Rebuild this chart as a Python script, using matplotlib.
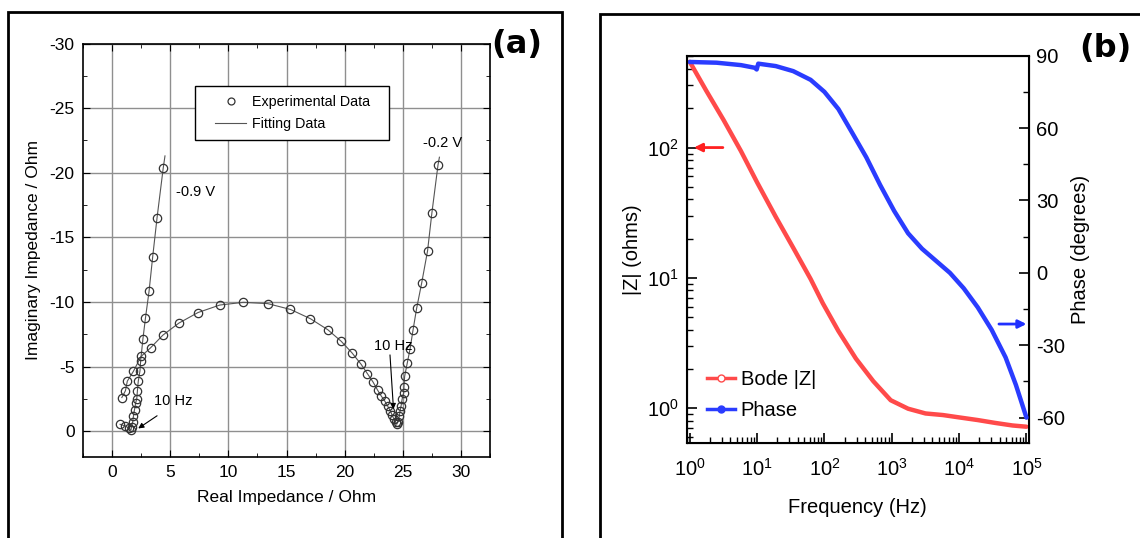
import matplotlib
matplotlib.use("Agg")
import matplotlib.pyplot as plt
from matplotlib.lines import Line2D
from matplotlib.patches import Rectangle
from matplotlib.ticker import MultipleLocator, LogLocator, NullFormatter

plt.rcParams['font.family'] = ['Liberation Sans', 'DejaVu Sans']
plt.rcParams['mathtext.default'] = 'regular'
plt.rcParams['axes.unicode_minus'] = False

# ---------------- Panel (a) data: Nyquist ----------------
re_09 = [0.69, 1.15, 1.47, 1.62, 1.68, 1.78, 1.84, 1.93, 2.03, 2.12, 2.18, 2.25, 2.40, 2.46, 2.65, 2.87, 3.18, 3.49, 3.87, 4.40]
im_09 = [-0.53, -0.40, -0.21, -0.08, -0.34, -0.74, -1.19, -1.67, -2.20, -2.47, -3.13, -3.85, -4.67, -5.46, -7.11, -8.75, -10.82, -13.47, -16.53, -20.37]

re_02 = [0.84, 1.15, 1.31, 1.84, 2.49, 3.31, 4.37, 5.74, 7.39, 9.26, 11.29, 13.38, 15.34, 17.06, 18.55, 19.71, 20.64, 21.42, 21.95, 22.45,
         22.83, 23.14, 23.45, 23.70, 23.92, 24.07, 24.23, 24.38, 24.48, 24.57, 24.70, 24.76, 24.85, 24.94, 25.07, 25.10, 25.16, 25.38,
         25.63, 25.88, 26.19, 26.63, 27.13, 27.50, 28.03]
im_02 = [-2.60, -3.13, -3.87, -4.64, -5.78, -6.45, -7.43, -8.36, -9.18, -9.76, -9.97, -9.87, -9.42, -8.70, -7.85, -6.95, -6.05, -5.17, -4.46, -3.79,
         -3.18, -2.73, -2.33, -1.94, -1.59, -1.27, -0.95, -0.69, -0.53, -0.74, -1.14, -1.54, -1.94, -2.47, -2.92, -3.45, -4.24, -5.25,
         -6.39, -7.82, -9.50, -11.49, -13.95, -16.87, -20.61]

fit_09_re = re_09 + [4.55]
fit_09_im = im_09 + [-21.3]
fit_02_re = re_02 + [28.15]
fit_02_im = im_02 + [-21.2]

# ---------------- Panel (b) data: Bode ----------------
freq_z = [1, 1.75, 3.17, 5.75, 10, 18.9, 34.4, 62.3, 94.5, 161, 293, 531, 963, 1746, 3170, 5740, 9820, 18900, 34300, 62000, 100000]
mag_z = [455, 274, 163, 94, 54, 29.4, 17.0, 9.8, 6.38, 3.91, 2.40, 1.61, 1.15, 0.99, 0.91, 0.885, 0.85, 0.81, 0.77, 0.736, 0.72]

freq_p = [1, 2.5, 5.75, 9.2, 9.85, 10.4, 18.9, 34.4, 62.3, 100, 161, 260, 418, 672, 1083, 1746, 2810, 4530, 7300, 11700, 18900, 30400, 48900, 69600, 100000]
phase = [87.4, 87.1, 86.1, 85.0, 84.3, 86.7, 85.7, 83.6, 80.0, 75.0, 67.9, 57.9, 47.9, 36.4, 25.7, 16.4, 10.0, 5.0, 0.0, -6.4, -14.3, -23.6, -35.0, -46.4, -60.0]

W, H = 1140, 538
fig = plt.figure(figsize=(W / 100, H / 100), dpi=100)

# panel frames
fig.patches.append(Rectangle((8 / W, -0.05), (562 - 8) / W, 1.05 - 12 / H, transform=fig.transFigure,
                             fill=False, lw=2, edgecolor='black'))
fig.patches.append(Rectangle((600 / W, -0.05), 0.5, 1.05 - 14 / H, transform=fig.transFigure,
                             fill=False, lw=2, edgecolor='black'))

# ---------------- Panel (a) ----------------
ax = fig.add_axes([83 / W, (H - 457) / H, (490 - 83) / W, (457 - 43.5) / H])
ax.grid(True, color='#8f8f8f', lw=1.0)
ax.set_axisbelow(True)
ax.plot(fit_09_re, fit_09_im, '-', color='#555555', lw=0.8)
ax.plot(fit_02_re, fit_02_im, '-', color='#555555', lw=0.8)
ax.plot(re_09, im_09, 'o', mfc='none', mec='#333333', ms=6, mew=0.9)
ax.plot(re_02, im_02, 'o', mfc='none', mec='#333333', ms=6, mew=0.9)
ax.set_xlim(-2.5, 32.5)
ax.set_ylim(2, -30)
ax.xaxis.set_major_locator(MultipleLocator(5))
ax.xaxis.set_minor_locator(MultipleLocator(2.5))
ax.yaxis.set_major_locator(MultipleLocator(5))
ax.yaxis.set_minor_locator(MultipleLocator(2.5))
ax.tick_params(which='both', direction='in', top=True, right=True, labelsize=12.5)
ax.tick_params(which='major', length=5, pad=6)
ax.tick_params(which='minor', length=3)
for s in ax.spines.values():
    s.set_linewidth(1.2)
ax.set_xlabel('Real Impedance / Ohm', fontsize=12.5, labelpad=7)
ax.set_ylabel('Imaginary Impedance / Ohm', fontsize=12.5, labelpad=6)

ax.text(5.5, -18.5, '-0.9 V', fontsize=10.5, va='center', ha='left')
ax.text(26.7, -22.3, '-0.2 V', fontsize=10.5, va='center', ha='left')
ax.text(3.6, -2.3, '10 Hz', fontsize=10.5, va='center', ha='left')
ax.text(22.5, -6.6, '10 Hz', fontsize=10.5, va='center', ha='left')
ax.annotate('', xy=(2.25, -0.21), xytext=(3.87, -1.19),
            arrowprops=dict(arrowstyle='-|>', lw=0.8, color='black', mutation_scale=8, shrinkA=0, shrinkB=0))
ax.annotate('', xy=(24.2, -1.7), xytext=(23.9, -5.9),
            arrowprops=dict(arrowstyle='-|>', lw=0.8, color='black', mutation_scale=8, shrinkA=0, shrinkB=0))

# legend box and legend
ax.add_patch(Rectangle((7.14, -26.7), 16.71, 4.2, facecolor='white', edgecolor='black', lw=1.0, zorder=4))
handles = [Line2D([], [], ls='none', marker='o', mfc='none', mec='#333333', ms=5, mew=0.9),
           Line2D([], [], ls='-', color='#555555', lw=0.8)]
ax.legend(handles, ['Experimental Data', 'Fitting Data'], loc='upper left',
          bbox_to_anchor=(0.324, 0.876), borderaxespad=0, fontsize=10.3, frameon=False,
          borderpad=0, handlelength=2.2, handletextpad=0.4, labelspacing=0.55)

fig.text(517 / W, 1 - 45 / H, '(a)', fontsize=23, fontweight='bold', family='DejaVu Sans',
         ha='center', va='center')

# ---------------- Panel (b) ----------------
fs = 14.5
bx = fig.add_axes([686.7 / W, (H - 443) / H, (1029 - 686.7) / W, (443 - 55.7) / H])
bx.set_xscale('log')
bx.set_yscale('log')
bx.plot(freq_z, mag_z, '-', color='#ff4a4a', lw=3.2, solid_capstyle='round')
bx.set_xlim(0.9, 1.09e5)
bx.set_ylim(0.54, 507)
bx.xaxis.set_major_locator(LogLocator(base=10, numticks=10))
bx.xaxis.set_minor_locator(LogLocator(base=10, subs=range(2, 10), numticks=20))
bx.xaxis.set_minor_formatter(NullFormatter())
bx.yaxis.set_minor_formatter(NullFormatter())
bx.tick_params(which='both', direction='in', top=False, right=False, labelsize=fs)
bx.tick_params(which='major', length=7, width=1.2)
bx.tick_params(which='minor', length=4, width=1.0)
bx.tick_params(axis='x', which='major', pad=11)
bx.tick_params(axis='y', which='major', pad=6)
for s in bx.spines.values():
    s.set_linewidth(1.5)
bx.set_xlabel('Frequency (Hz)', fontsize=fs, labelpad=13)
bx.set_ylabel('|Z| (ohms)', fontsize=fs, labelpad=3)

px = bx.twinx()
px.plot(freq_p, phase, '-', color='#2a3cff', lw=3.2, solid_capstyle='round')
px.set_ylim(-70.5, 90)
px.yaxis.set_major_locator(MultipleLocator(30))
px.yaxis.set_minor_locator(MultipleLocator(15))
px.tick_params(which='both', direction='in', labelsize=fs)
px.tick_params(which='major', length=7, width=1.2, pad=5)
px.tick_params(which='minor', length=4, width=1.0)
px.set_ylabel('Phase (degrees)', fontsize=fs, rotation=90, labelpad=4)

# arrows pointing to the axes
bx.annotate('', xy=(1.15, 100), xytext=(3.1, 100),
            arrowprops=dict(arrowstyle='-|>', lw=2, color='#ff2020', mutation_scale=12, shrinkA=0, shrinkB=0))
px.annotate('', xy=(1.0e5, -21.2), xytext=(3.9e4, -21.2),
            arrowprops=dict(arrowstyle='-|>', lw=2, color='#2030ff', mutation_scale=12, shrinkA=0, shrinkB=0))

lh = [Line2D([], [], color='#ff4a4a', lw=2.5, marker='o', mfc='white', mec='#ff4a4a', ms=5),
      Line2D([], [], color='#2a3cff', lw=2.5, marker='o', mfc='#2a3cff', mec='#2a3cff', ms=5)]
bx.legend(lh, ['Bode |Z|', 'Phase'], loc='lower left', bbox_to_anchor=(0.058, 0.06),
          frameon=False, fontsize=fs, handlelength=1.4, borderpad=0,
          handletextpad=0.3, labelspacing=0.6, borderaxespad=0)

fig.text(1105 / W, 1 - 48 / H, '(b)', fontsize=23, fontweight='bold', family='DejaVu Sans',
         ha='center', va='center')

fig.savefig('out.png', dpi=100)
